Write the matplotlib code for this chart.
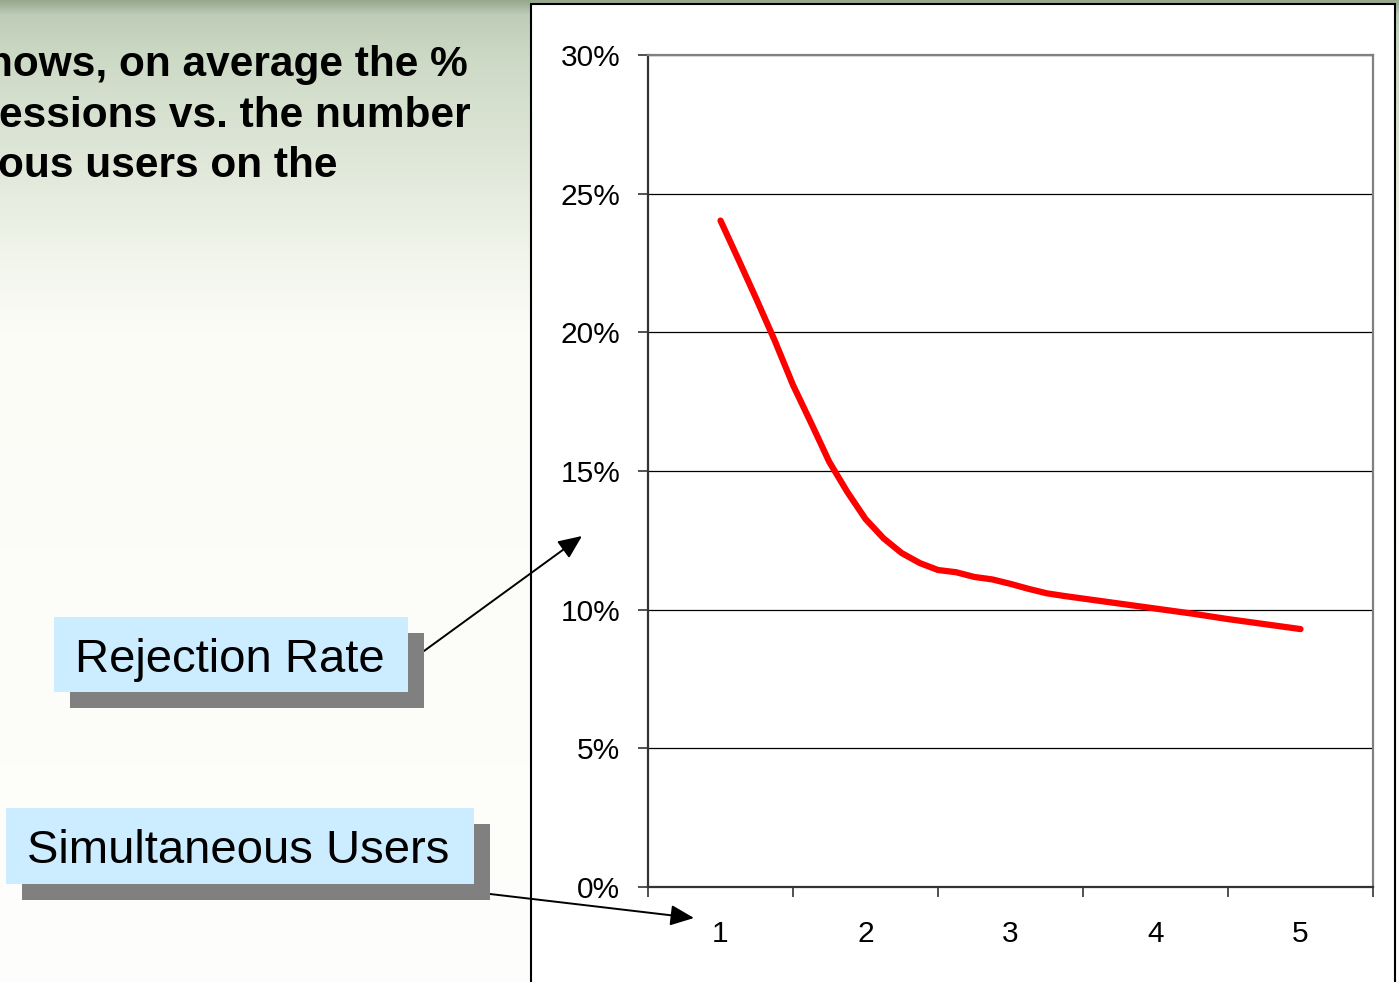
import matplotlib.pyplot as plt
import numpy as np
from matplotlib.patches import Rectangle
from matplotlib.ticker import PercentFormatter

plt.rcParams['font.family'] = ['Liberation Sans', 'DejaVu Sans']

W, H = 1399, 982

# simultaneous users (x) and average rejection rate (y)
users = [1.0, 1.125, 1.25, 1.375, 1.5, 1.625, 1.75, 1.875,
         2.0, 2.125, 2.25, 2.375, 2.5, 2.625, 2.75, 2.875,
         3.0, 3.125, 3.25, 3.375, 3.5, 3.625, 3.75, 3.875,
         4.0, 4.125, 4.25, 4.375, 4.5, 4.625, 4.75, 4.875, 5.0]
rejection = [0.2403, 0.2261, 0.2117, 0.1969, 0.1810, 0.1673, 0.1533, 0.1424,
             0.1327, 0.1257, 0.1204, 0.1168, 0.1143, 0.1135, 0.1118, 0.1109,
             0.1093, 0.1075, 0.1059, 0.1049, 0.1040, 0.1031, 0.1022, 0.1013,
             0.1004, 0.0995, 0.0986, 0.0976, 0.0966, 0.0957, 0.0948, 0.0939, 0.0930]
user_labels = [1, 2, 3, 4, 5]
rate_ticks = [0.0, 0.05, 0.10, 0.15, 0.20, 0.25, 0.30]

title_lines = ["hows, on average the %", "essions vs. the number", "ous users on the"]
callouts = ["Rejection Rate", "Simultaneous Users"]


def fx(x):
    return x / W


def fy(y):
    return 1 - y / H


fig = plt.figure(figsize=(W / 100, H / 100), dpi=100)

# slide background: green fading to white
bg = fig.add_axes([0, 0, 1, 1], zorder=-10)
rows = np.arange(H)
stops = [0, 15, 60, 150, 250, 330, H]
reds = [150, 190, 205, 222, 240, 251, 254]
greens = [168, 205, 218, 230, 244, 252, 254]
blues = [140, 185, 198, 215, 234, 246, 252]
grad = np.stack([np.interp(rows, stops, reds),
                 np.interp(rows, stops, greens),
                 np.interp(rows, stops, blues)], axis=-1)[:, None, :] / 255
bg.imshow(grad, aspect='auto', extent=[0, 1, 0, 1])
bg.set_axis_off()

# chart frame
fig.patches.append(Rectangle((fx(531), fy(1000)), fx(1395 - 531), (1000 - 4) / H,
                             transform=fig.transFigure, facecolor='white',
                             edgecolor='black', linewidth=1.5, zorder=-5))

# headline text (cut at the left edge, as on the slide)
for line, xr, yb in zip(title_lines, [468, 471, 338], [76, 127, 177]):
    fig.text(fx(xr), fy(yb), line, ha='right', va='baseline',
             fontsize=30.5, fontweight='bold', color='black')

# callout boxes with shadows
boxes = [(54, 617, 408, 692, 75, 672), (6, 808, 474, 884, 27, 863)]
for label, (x0, y0, x1, y1, tx, ty) in zip(callouts, boxes):
    fig.patches.append(Rectangle((fx(x0 + 16), fy(y1 + 16)), fx(x1 - x0), (y1 - y0) / H,
                                 transform=fig.transFigure, facecolor='#808080',
                                 edgecolor='none', zorder=1))
    fig.patches.append(Rectangle((fx(x0), fy(y1)), fx(x1 - x0), (y1 - y0) / H,
                                 transform=fig.transFigure, facecolor='#CCECFF',
                                 edgecolor='none', zorder=2))
    fig.text(fx(tx), fy(ty), label, ha='left', va='baseline', fontsize=34,
             color='black', zorder=3)

ax = fig.add_axes([fx(648), fy(887), fx(1373 - 648), (887 - 55) / H])
ax.set_facecolor('white')
ax.plot(users, rejection, color='#FF0000', linewidth=4.5,
        solid_capstyle='round', solid_joinstyle='round', zorder=3)

ax.set_xlim(0.5, 5.5)
ax.set_ylim(0, 0.30)
ax.set_yticks(rate_ticks)
ax.yaxis.set_major_formatter(PercentFormatter(1.0, decimals=0))
ax.set_xticks([v - 0.5 for v in user_labels] + [5.5])
ax.set_xticklabels([])
ax.set_xticks(user_labels, minor=True)
ax.set_xticklabels([str(v) for v in user_labels], minor=True)
ax.tick_params(axis='x', which='major', length=7, width=1.2, color='#333333')
ax.tick_params(axis='x', which='minor', length=0, pad=24, labelsize=21.5)
ax.tick_params(axis='y', length=7, width=1.2, color='#333333', pad=13, labelsize=21.5)
ax.yaxis.grid(True, color='black', linewidth=0.9)
ax.set_axisbelow(True)
for side in ['top', 'right']:
    ax.spines[side].set_color('#808080')
    ax.spines[side].set_linewidth(1.6)
for side in ['left', 'bottom']:
    ax.spines[side].set_color('#333333')
    ax.spines[side].set_linewidth(1.6)

# arrows from the callouts to the axes
arrow = dict(arrowstyle='-|>,head_length=0.8,head_width=0.35', mutation_scale=18,
             color='black', linewidth=1.4, shrinkA=0, shrinkB=0)
ax.annotate('', xy=(582, H - 536), xytext=(424, H - 651),
            xycoords='figure pixels', textcoords='figure pixels',
            arrowprops=arrow, annotation_clip=False)
ax.annotate('', xy=(694, H - 918), xytext=(490, H - 894),
            xycoords='figure pixels', textcoords='figure pixels',
            arrowprops=arrow, annotation_clip=False)

fig.savefig('out.png', dpi=100)
